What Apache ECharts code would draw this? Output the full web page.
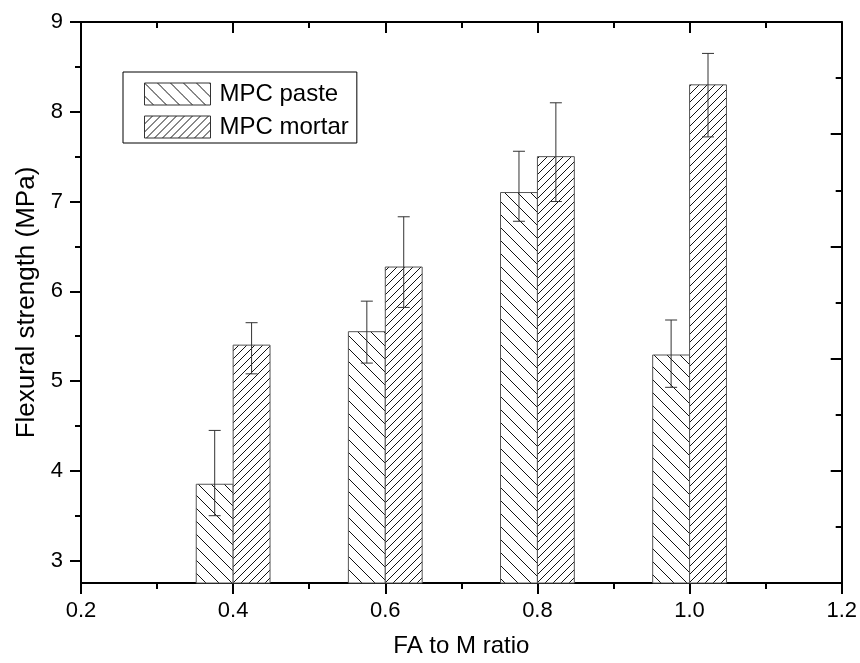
<!DOCTYPE html>
<html>
<head>
<meta charset="utf-8">
<script src="https://cdn.jsdelivr.net/npm/echarts@6/dist/echarts.min.js"></script>
<style>html,body{margin:0;padding:0;background:#fff}#c{width:860px;height:663px}</style>
</head>
<body>
<div id="c"></div>
<script>
// ---- data ----
const ratios = [0.4, 0.6, 0.8, 1.0];
const pasteVals = [3.85, 5.55, 7.10, 5.29];
const pasteHigh = [4.45, 5.89, 7.56, 5.68];
const pasteLow  = [3.50, 5.20, 6.78, 4.93];
const mortarVals = [5.40, 6.27, 7.50, 8.30];
const mortarHigh = [5.65, 6.83, 8.10, 8.65];
const mortarLow  = [5.08, 5.82, 7.00, 7.72];
const xTicks = [0.2, 0.4, 0.6, 0.8, 1.0, 1.2];
const yTicks = [3, 4, 5, 6, 7, 8, 9];
const yMinorTicks = [3.5, 4.5, 5.5, 6.5, 7.5, 8.5];
const seriesNames = ['MPC paste', 'MPC mortar'];

// ---- hatch patterns ----
function hatch(size, dir) {
  const c = document.createElement('canvas');
  c.width = size; c.height = size;
  const g = c.getContext('2d');
  g.fillStyle = '#fff'; g.fillRect(0, 0, size, size);
  g.strokeStyle = '#111'; g.lineWidth = 1;
  g.beginPath();
  for (let k = -1; k <= 1; k++) {
    if (dir > 0) { // "/"
      g.moveTo(k * size - 1, size + 1); g.lineTo(k * size + size + 1, -1);
    } else {       // "\"
      g.moveTo(k * size - 1, -1); g.lineTo(k * size + size + 1, size + 1);
    }
  }
  g.stroke();
  return { image: c, repeat: 'repeat' };
}
const pastePattern = hatch(13, -1);
const mortarPattern = hatch(8, 1);

const Y_MIN = 2.75, Y_MAX = 9;
const BAR_W = 0.0485;

function makeSeries(name, vals, hi, lo, side, pattern) {
  const data = ratios.map((r, i) => [r, vals[i], hi[i], lo[i]]);
  return {
    name: name,
    type: 'custom',
    xAxisIndex: 0, yAxisIndex: 0,
    itemStyle: { color: pattern, borderColor: '#555', borderWidth: 1 },
    data: data,
    renderItem: function (params, api) {
      const x = api.value(0), v = api.value(1), h = api.value(2), l = api.value(3);
      const x0 = side < 0 ? x - BAR_W : x;
      const x1 = side < 0 ? x : x + BAR_W;
      const pTop = api.coord([x0, v]);
      const pBot = api.coord([x1, Y_MIN]);
      const cx = api.coord([(x0 + x1) / 2, v])[0];
      const yh = api.coord([x, h])[1];
      const yl = api.coord([x, l])[1];
      const cap = 6;
      const eStyle = { stroke: '#333', lineWidth: 1 };
      return {
        type: 'group',
        children: [
          { type: 'rect', shape: { x: pTop[0], y: pTop[1], width: pBot[0] - pTop[0], height: pBot[1] - pTop[1] },
            style: { fill: pattern, stroke: '#555', lineWidth: 1 } },
          { type: 'line', shape: { x1: cx, y1: yh, x2: cx, y2: yl }, style: eStyle },
          { type: 'line', shape: { x1: cx - cap, y1: yh, x2: cx + cap, y2: yh }, style: eStyle },
          { type: 'line', shape: { x1: cx - cap, y1: yl, x2: cx + cap, y2: yl }, style: eStyle }
        ]
      };
    }
  };
}

const FONT = '"Liberation Sans", Arial, sans-serif';
const axisLine = { show: true, lineStyle: { color: '#000', width: 2 } };

const option = {
  animation: false,
  backgroundColor: '#fff',
  grid: { left: 81, right: 15, top: 22, bottom: 78, containLabel: false },
  legend: {
    orient: 'vertical', left: 123, top: 72,
    padding: [10, 8, 4, 21], itemGap: 9,
    itemWidth: 66, itemHeight: 22,
    borderColor: '#000', borderWidth: 1,
    icon: 'rect',
    textStyle: { fontFamily: FONT, fontSize: 24, color: '#000', padding: [0, 0, 0, 4] },
    data: [
      { name: seriesNames[0], itemStyle: { color: pastePattern, borderColor: '#333', borderWidth: 1 } },
      { name: seriesNames[1], itemStyle: { color: mortarPattern, borderColor: '#333', borderWidth: 1 } }
    ]
  },
  xAxis: [
    {
      type: 'value', position: 'bottom', min: 0.2, max: 1.2, interval: 0.2,
      name: 'FA to M ratio', nameLocation: 'middle', nameGap: 51,
      nameTextStyle: { fontFamily: FONT, fontSize: 24, color: '#000' },
      axisLine: axisLine,
      axisTick: { show: true, inside: false, length: 11, lineStyle: { color: '#000', width: 2 } },
      minorTick: { show: true, splitNumber: 2, length: 6, lineStyle: { color: '#000', width: 2 } },
      axisLabel: { fontFamily: FONT, fontSize: 22, color: '#000', margin: 17,
        customValues: xTicks, formatter: v => v.toFixed(1) },
      splitLine: { show: false }
    },
    {
      type: 'value', position: 'top', min: 0.2, max: 1.2, interval: 0.2,
      axisLine: axisLine,
      axisTick: { show: true, inside: true, length: 11, lineStyle: { color: '#000', width: 2 } },
      minorTick: { show: true, splitNumber: 2, length: 6, lineStyle: { color: '#000', width: 2 } },
      axisLabel: { show: false },
      splitLine: { show: false }
    }
  ],
  yAxis: [
    {
      type: 'value', position: 'left', min: Y_MIN, max: Y_MAX,
      name: 'Flexural strength (MPa)', nameLocation: 'middle', nameGap: 39,
      nameTextStyle: { fontFamily: FONT, fontSize: 26, color: '#000' },
      axisLine: axisLine,
      axisTick: { show: true, inside: false, length: 11, customValues: yTicks, lineStyle: { color: '#000', width: 2 } },
      axisLabel: { fontFamily: FONT, fontSize: 22, color: '#000', margin: 18, customValues: yTicks },
      splitLine: { show: false }
    },
    {
      type: 'value', position: 'left', min: Y_MIN, max: Y_MAX,
      axisLine: { show: false },
      axisTick: { show: true, inside: false, length: 6, customValues: yMinorTicks, lineStyle: { color: '#000', width: 2 } },
      axisLabel: { show: false },
      splitLine: { show: false }
    },
    {
      type: 'value', position: 'right', min: 0, max: 5, interval: 1,
      axisLine: axisLine,
      axisTick: { show: true, inside: true, length: 11, lineStyle: { color: '#000', width: 2 } },
      minorTick: { show: true, splitNumber: 2, length: 6, lineStyle: { color: '#000', width: 2 } },
      axisLabel: { show: false },
      splitLine: { show: false }
    }
  ],
  series: [
    makeSeries(seriesNames[0], pasteVals, pasteHigh, pasteLow, -1, pastePattern),
    makeSeries(seriesNames[1], mortarVals, mortarHigh, mortarLow, 1, mortarPattern)
  ]
};

const chart = echarts.init(document.getElementById('c'), null, { renderer: 'canvas' });
chart.setOption(option);
</script>
</body>
</html>
